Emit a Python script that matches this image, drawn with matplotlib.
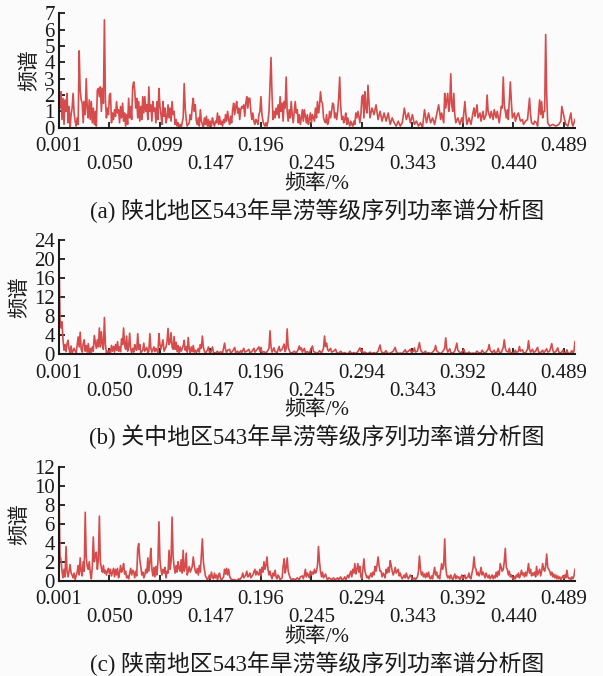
import numpy as np
import matplotlib.pyplot as plt

plt.rcParams['font.family'] = ['Liberation Serif', 'Noto Sans CJK SC']

# spectral bin k (frequency = k / 1024) and power
pts_a = [(1, 2.5), (2, 1.2), (3, 2.2), (4, 0.5), (5, 1.8), (6, 0.2), (7, 1.7), (8, 1.0), (9, 2.1), (10, 0.3),
         (11, 1.3), (12, 0.0), (13, 0.8), (14, 1.2), (15, 2.1), (16, 0.9), (17, 0.4), (18, 0.1), (19, 0.6), (20, 0.2),
         (21, 4.7), (22, 2.3), (23, 1.7), (24, 1.5), (25, 0.3), (26, 1.6), (27, 0.8), (28, 3.0), (29, 1.2), (30, 0.6),
         (31, 1.7), (32, 0.5), (33, 1.6), (34, 0.3), (35, 1.2), (36, 0.2), (37, 1.0), (38, 0.1), (39, 2.3), (40, 2.4),
         (41, 1.9), (42, 2.5), (43, 1.0), (44, 2.4), (45, 1.5), (46, 6.6), (47, 1.7), (48, 0.6), (49, 1.2), (50, 0.8),
         (51, 2.0), (52, 2.1), (53, 0.3), (54, 0.9), (55, 0.5), (56, 1.1), (57, 0.7), (58, 1.6), (59, 0.9), (60, 1.1),
         (61, 0.3), (62, 1.3), (63, 0.6), (64, 1.5), (65, 0.4), (66, 0.9), (67, 0.1), (68, 0.8), (69, 0.2), (70, 1.8),
         (71, 0.6), (72, 1.3), (73, 0.5), (74, 2.5), (75, 2.8), (76, 2.3), (77, 1.2), (78, 1.8), (79, 0.6), (80, 1.6),
         (81, 0.4), (82, 1.3), (83, 0.5), (84, 1.9), (85, 0.9), (86, 1.9), (87, 1.0), (88, 1.4), (89, 0.5), (90, 2.5),
         (91, 1.0), (92, 1.4), (93, 0.4), (94, 1.6), (95, 1.0), (96, 1.2), (97, 0.3), (98, 1.6), (99, 0.5), (100, 2.4),
         (101, 1.3), (102, 0.8), (103, 0.2), (104, 1.6), (105, 0.7), (106, 1.2), (107, 0.3), (108, 0.6), (109, 1.4),
         (110, 0.6), (111, 1.2), (112, 0.4), (113, 1.6), (114, 0.8), (115, 1.0), (116, 0.2), (117, 0.5), (118, 0.1),
         (119, 0.3), (120, 0.0), (121, 0.2), (122, 0.0), (123, 0.3), (124, 0.6), (125, 2.7), (126, 1.2), (127, 0.5),
         (128, 0.1), (129, 0.2), (130, 0.3), (131, 0.8), (132, 0.5), (133, 1.3), (134, 1.8), (135, 1.0), (136, 1.4),
         (137, 0.4), (138, 0.2), (139, 0.6), (140, 0.1), (141, 1.1), (142, 0.4), (143, 0.2), (144, 0.0), (145, 0.6),
         (146, 0.2), (147, 0.7), (148, 0.1), (149, 0.5), (150, 0.0), (151, 0.4), (152, 0.1), (153, 0.6), (154, 0.3),
         (155, 0.1), (156, 0.4), (157, 0.3), (158, 0.9), (159, 0.2), (160, 0.7), (161, 0.2), (162, 0.4), (163, 0.1),
         (164, 0.5), (165, 0.3), (166, 0.8), (167, 0.4), (168, 1.0), (169, 0.5), (170, 0.2), (171, 0.7), (172, 0.3),
         (173, 1.1), (174, 1.5), (175, 0.8), (176, 1.3), (177, 1.6), (178, 0.9), (179, 1.2), (180, 0.5), (181, 1.1),
         (182, 1.3), (183, 1.2), (184, 1.4), (185, 0.7), (186, 1.5), (187, 1.9), (188, 1.2), (189, 1.8), (190, 1.8),
         (191, 1.0), (192, 0.5), (193, 0.9), (194, 0.4), (195, 0.2), (196, 0.5), (197, 0.4), (198, 0.2), (199, 0.8),
         (200, 1.0), (201, 1.9), (202, 0.8), (203, 0.4), (204, 0.2), (205, 0.1), (206, 0.3), (207, 0.1), (208, 0.4),
         (209, 1.0), (210, 2.6), (211, 4.3), (212, 2.0), (213, 0.5), (214, 1.0), (215, 0.6), (216, 1.2), (217, 0.8),
         (218, 1.4), (219, 0.6), (220, 1.9), (221, 1.0), (222, 1.5), (223, 0.4), (224, 1.6), (225, 1.2), (226, 3.1),
         (227, 1.0), (228, 0.4), (229, 1.1), (230, 0.6), (231, 1.6), (232, 0.8), (233, 0.3), (234, 1.0), (235, 1.6),
         (236, 0.9), (237, 1.1), (238, 0.3), (239, 0.8), (240, 0.2), (241, 0.6), (242, 1.1), (243, 0.4), (244, 1.1),
         (245, 0.7), (246, 0.3), (247, 0.8), (248, 0.2), (249, 0.5), (250, 0.9), (251, 0.3), (252, 0.8), (253, 0.6),
         (254, 0.4), (255, 1.2), (256, 0.6), (257, 1.6), (258, 0.9), (259, 1.3), (260, 2.2), (261, 1.6), (262, 1.5),
         (263, 0.6), (264, 0.4), (265, 0.3), (266, 0.8), (267, 0.2), (268, 0.4), (269, 1.0), (270, 0.6), (271, 1.0),
         (272, 1.5), (273, 1.4), (274, 0.6), (275, 0.9), (276, 0.5), (277, 1.0), (278, 1.8), (279, 3.1), (280, 1.3),
         (281, 0.5), (282, 0.7), (283, 0.3), (284, 0.5), (285, 0.9), (286, 0.2), (287, 0.6), (288, 0.3), (289, 0.1),
         (290, 0.4), (291, 0.2), (292, 0.1), (293, 0.4), (294, 0.2), (295, 0.9), (296, 0.6), (297, 1.0), (298, 0.7),
         (299, 0.3), (300, 0.8), (301, 1.9), (302, 2.0), (303, 0.6), (304, 2.2), (305, 1.2), (306, 0.9), (307, 2.6),
         (309, 0.6), (311, 1.2), (313, 0.8), (315, 1.4), (317, 0.5), (319, 1.0), (321, 0.4), (323, 0.9), (325, 0.4),
         (327, 0.9), (329, 0.2), (331, 0.6), (333, 0.3), (335, 0.1), (337, 0.4), (339, 0.1), (341, 0.3), (343, 1.2),
         (345, 0.5), (347, 0.9), (349, 0.3), (351, 0.8), (353, 0.2), (355, 0.4), (357, 0.1), (359, 0.3), (361, 0.0),
         (363, 1.1), (365, 0.3), (367, 0.9), (369, 0.3), (371, 0.6), (373, 0.2), (375, 0.8), (377, 1.4), (379, 0.5),
         (380, 0.9), (382, 0.3), (383, 2.1), (384, 1.2), (386, 2.1), (387, 1.0), (388, 1.5), (389, 3.3), (390, 1.4),
         (391, 1.0), (392, 2.1), (393, 0.8), (394, 0.3), (396, 0.6), (398, 0.2), (400, 0.6), (401, 0.3), (403, 1.6),
         (404, 0.8), (405, 0.2), (407, 0.6), (409, 0.2), (411, 0.9), (412, 1.2), (413, 0.7), (415, 1.4), (416, 0.6),
         (418, 0.9), (419, 0.4), (421, 1.0), (422, 0.5), (424, 0.8), (425, 2.0), (426, 1.0), (428, 0.6), (429, 1.0),
         (431, 0.5), (432, 1.1), (434, 0.6), (435, 1.0), (437, 0.3), (439, 1.3), (440, 1.2), (441, 3.1), (442, 1.4),
         (443, 1.0), (444, 0.6), (445, 1.1), (446, 0.5), (448, 2.8), (449, 1.6), (450, 0.6), (452, 0.9), (453, 0.4),
         (455, 0.8), (456, 0.9), (458, 0.4), (460, 0.5), (461, 0.2), (463, 0.4), (465, 0.5), (467, 1.8), (468, 0.8),
         (469, 0.3), (471, 0.2), (472, 0.4), (474, 0.3), (475, 0.1), (477, 1.7), (478, 0.8), (479, 1.6), (480, 0.6),
         (481, 1.0), (482, 1.0), (483, 5.7), (484, 2.0), (485, 0.3), (487, 0.1), (490, 0.2), (493, 0.1), (496, 0.2),
         (498, 0.4), (499, 1.3), (501, 0.7), (503, 0.2), (505, 0.1), (508, 0.9), (509, 0.3), (510, 0.1), (512, 0.5)]

pts_b = [(1, 21.0), (2, 7.5), (3, 5.5), (4, 6.8), (5, 3.0), (6, 0.8), (7, 2.0), (8, 0.5), (9, 2.2), (10, 2.9),
         (11, 1.0), (12, 0.3), (13, 1.7), (14, 0.2), (16, 1.2), (18, 0.1), (20, 3.6), (21, 1.5), (22, 4.6), (23, 1.0),
         (24, 0.4), (25, 2.2), (26, 3.0), (27, 0.6), (28, 1.8), (29, 0.4), (30, 2.2), (31, 0.3), (32, 1.2), (33, 0.2),
         (34, 1.5), (35, 0.6), (36, 3.9), (37, 2.5), (38, 1.2), (39, 3.0), (40, 1.5), (41, 5.5), (42, 1.5), (43, 4.7),
         (44, 2.0), (45, 1.0), (46, 7.7), (47, 2.0), (48, 0.2), (49, 0.6), (50, 0.2), (51, 0.8), (52, 0.3), (53, 1.8),
         (54, 0.6), (55, 1.6), (56, 0.4), (57, 2.0), (58, 0.8), (59, 2.6), (60, 0.6), (61, 1.5), (62, 0.5), (63, 3.2),
         (64, 2.0), (65, 5.5), (66, 2.0), (67, 1.0), (68, 3.8), (69, 0.6), (70, 1.6), (71, 4.4), (72, 1.0), (73, 0.3),
         (74, 1.2), (75, 0.4), (76, 2.0), (77, 1.0), (78, 0.8), (79, 4.3), (80, 1.0), (81, 2.0), (82, 0.3), (84, 0.8),
         (85, 2.3), (86, 0.6), (88, 1.4), (89, 0.3), (90, 0.6), (91, 4.3), (92, 1.2), (93, 0.4), (95, 1.5), (96, 0.5),
         (97, 1.2), (99, 0.3), (100, 4.3), (101, 2.0), (102, 1.0), (104, 3.0), (105, 0.6), (107, 1.5), (108, 2.6),
         (109, 5.4), (110, 2.0), (111, 2.5), (112, 4.5), (113, 1.5), (114, 1.0), (115, 3.7), (116, 1.0), (117, 2.5),
         (118, 0.5), (119, 1.8), (120, 0.2), (121, 1.5), (122, 0.6), (124, 1.7), (125, 2.9), (126, 0.8), (127, 1.5),
         (128, 0.4), (129, 3.5), (130, 1.0), (131, 0.3), (132, 1.5), (133, 0.5), (134, 1.8), (135, 0.4), (136, 0.8),
         (137, 0.3), (139, 1.2), (140, 0.4), (141, 2.0), (142, 1.2), (143, 3.8), (144, 1.5), (145, 0.6), (146, 0.2),
         (148, 0.8), (149, 1.5), (150, 0.4), (151, 0.1), (152, 0.8), (153, 1.5), (154, 0.3), (156, 0.2), (158, 0.6),
         (159, 0.1), (161, 0.5), (163, 0.2), (165, 2.3), (166, 0.9), (167, 0.3), (168, 0.8), (170, 1.0), (171, 0.2),
         (173, 0.6), (175, 1.4), (176, 0.3), (178, 0.6), (179, 0.1), (181, 0.7), (182, 0.3), (184, 1.2), (185, 0.4),
         (187, 0.6), (189, 1.0), (190, 0.3), (192, 0.5), (194, 1.2), (195, 0.4), (197, 0.9), (199, 1.5), (200, 0.6),
         (201, 1.4), (202, 0.3), (204, 0.5), (206, 0.2), (208, 0.8), (209, 1.2), (210, 4.9), (211, 1.5), (212, 0.4),
         (214, 1.3), (215, 0.5), (217, 0.3), (219, 1.6), (220, 0.6), (222, 1.0), (224, 2.1), (225, 0.5), (226, 1.2),
         (227, 5.3), (228, 1.4), (229, 0.8), (230, 0.3), (232, 0.2), (234, 0.6), (236, 0.2), (238, 1.0), (239, 1.7),
         (240, 0.9), (241, 1.3), (242, 0.4), (244, 1.2), (245, 0.3), (247, 0.5), (249, 0.2), (250, 0.8), (252, 1.7),
         (253, 0.6), (255, 0.3), (257, 0.1), (259, 0.7), (261, 0.2), (263, 1.2), (264, 3.8), (265, 1.6), (266, 2.3),
         (267, 1.0), (268, 0.6), (270, 1.2), (271, 0.4), (273, 0.6), (275, 1.0), (276, 0.3), (278, 0.1), (280, 0.6),
         (282, 0.1), (284, 0.3), (286, 0.0), (288, 0.2), (289, 0.6), (291, 0.1), (293, 0.3), (295, 0.1), (297, 0.5),
         (299, 1.3), (300, 0.6), (301, 0.9), (302, 0.2), (304, 0.4), (306, 0.1), (308, 0.2), (309, 0.4), (311, 0.1),
         (313, 0.3), (315, 0.1), (317, 0.6), (319, 1.9), (320, 0.7), (321, 0.3), (323, 0.2), (325, 0.7), (326, 0.2),
         (328, 0.1), (330, 0.3), (332, 0.6), (334, 1.4), (335, 0.5), (337, 0.1), (339, 0.2), (341, 0.1), (342, 0.4),
         (344, 0.9), (345, 0.3), (347, 0.6), (349, 1.0), (350, 0.3), (352, 0.6), (353, 1.3), (354, 0.4), (356, 0.6),
         (358, 2.4), (359, 1.0), (360, 0.5), (362, 0.2), (364, 0.6), (365, 0.1), (367, 0.3), (369, 0.1), (371, 0.4),
         (373, 0.9), (374, 1.8), (375, 0.7), (377, 0.3), (379, 0.1), (381, 0.5), (383, 1.2), (384, 3.4), (385, 1.2),
         (386, 0.4), (388, 1.1), (389, 0.3), (391, 0.2), (393, 0.6), (395, 2.3), (396, 0.8), (398, 0.3), (400, 0.4),
         (402, 1.0), (403, 0.3), (405, 0.1), (407, 0.4), (409, 0.1), (411, 0.2), (413, 0.1), (415, 0.6), (417, 0.2),
         (419, 0.3), (420, 0.8), (422, 0.2), (424, 0.4), (426, 1.0), (427, 2.0), (428, 0.8), (430, 0.3), (432, 0.8),
         (433, 0.2), (435, 0.5), (436, 1.2), (437, 0.4), (439, 0.3), (441, 1.4), (442, 3.0), (443, 1.2), (444, 0.6),
         (446, 0.4), (447, 1.2), (448, 0.3), (450, 0.2), (452, 0.4), (453, 0.8), (454, 0.2), (456, 0.6), (457, 1.6),
         (458, 0.6), (460, 0.9), (461, 0.3), (463, 0.2), (465, 1.0), (466, 2.8), (467, 1.0), (468, 0.4), (470, 1.0),
         (471, 0.3), (473, 0.6), (475, 1.4), (476, 0.4), (478, 0.3), (480, 0.8), (481, 0.2), (482, 0.5), (484, 1.1),
         (485, 0.4), (487, 0.6), (489, 2.2), (490, 0.9), (491, 0.3), (493, 0.5), (495, 1.3), (496, 0.4), (498, 0.2),
         (500, 0.8), (501, 0.2), (503, 0.3), (504, 0.9), (505, 0.2), (507, 0.1), (509, 0.7), (510, 0.2), (511, 0.6),
         (512, 2.6)]

pts_c = [(1, 9.5), (2, 2.6), (3, 2.2), (4, 1.0), (5, 0.3), (6, 1.2), (7, 0.4), (8, 3.6), (9, 1.0), (10, 0.4),
         (11, 1.0), (12, 1.7), (13, 0.8), (14, 0.6), (15, 0.3), (16, 0.8), (17, 0.1), (18, 0.5), (19, 0.9), (20, 1.6),
         (21, 0.6), (22, 2.4), (23, 1.0), (24, 0.5), (25, 2.0), (26, 1.0), (27, 7.2), (28, 2.5), (29, 1.5), (30, 1.2),
         (31, 2.0), (32, 0.8), (33, 0.2), (34, 1.5), (35, 4.6), (36, 2.0), (37, 2.6), (38, 3.0), (39, 1.2), (40, 2.2),
         (41, 6.8), (42, 2.0), (43, 1.3), (44, 0.9), (45, 1.6), (46, 0.8), (47, 1.1), (48, 0.6), (49, 1.0), (50, 1.3),
         (51, 0.7), (52, 1.2), (53, 0.5), (54, 0.9), (55, 1.3), (56, 0.4), (57, 1.2), (58, 0.6), (59, 1.3), (60, 0.3),
         (61, 0.8), (62, 1.6), (63, 0.9), (64, 1.2), (65, 1.8), (66, 0.7), (67, 1.0), (68, 0.3), (69, 0.5), (70, 0.2),
         (71, 0.8), (72, 1.3), (73, 0.6), (74, 1.1), (75, 0.9), (76, 0.3), (77, 1.0), (78, 0.5), (79, 3.4), (80, 3.9),
         (81, 2.2), (82, 1.5), (83, 0.6), (84, 0.9), (85, 0.3), (86, 0.6), (87, 1.2), (88, 0.8), (89, 2.4), (90, 1.0),
         (91, 2.0), (92, 3.4), (93, 1.2), (94, 0.5), (95, 1.4), (96, 0.4), (97, 1.5), (98, 0.6), (99, 2.0), (100, 6.2),
         (101, 2.2), (102, 1.2), (103, 0.6), (104, 1.2), (105, 0.8), (106, 1.4), (107, 0.3), (108, 1.0), (109, 0.8),
         (110, 3.2), (111, 1.2), (112, 2.0), (113, 6.7), (114, 2.6), (115, 1.5), (116, 0.8), (117, 1.6), (118, 0.9),
         (119, 2.0), (120, 1.3), (121, 1.0), (122, 2.2), (123, 0.8), (124, 3.2), (125, 1.0), (126, 1.4), (127, 2.9),
         (128, 0.6), (129, 1.0), (130, 1.5), (131, 0.9), (132, 1.2), (133, 1.5), (134, 2.5), (135, 1.6), (136, 1.0),
         (137, 0.8), (138, 1.3), (139, 0.6), (140, 1.6), (141, 0.9), (142, 2.6), (143, 4.4), (144, 2.0), (145, 1.2),
         (146, 0.5), (147, 0.3), (148, 0.1), (149, 0.3), (150, 0.6), (151, 0.2), (152, 0.9), (153, 0.4), (154, 0.2),
         (155, 0.8), (156, 0.3), (157, 0.6), (158, 0.1), (159, 0.5), (160, 0.8), (161, 0.2), (162, 0.1), (164, 0.4),
         (165, 1.2), (166, 0.7), (167, 1.3), (168, 0.6), (169, 1.2), (170, 0.5), (171, 0.2), (173, 0.1), (175, 0.1),
         (177, 0.0), (179, 0.2), (180, 0.1), (182, 0.4), (183, 0.8), (184, 0.3), (186, 0.6), (187, 1.0), (188, 0.4),
         (189, 0.5), (190, 0.8), (191, 0.3), (193, 0.6), (195, 1.2), (196, 0.6), (197, 1.0), (198, 0.7), (199, 0.6),
         (200, 1.2), (201, 0.5), (202, 1.4), (203, 0.9), (204, 2.0), (205, 1.2), (206, 1.6), (207, 2.5), (208, 1.2),
         (209, 0.6), (210, 1.0), (211, 0.5), (212, 0.2), (213, 0.8), (214, 0.5), (215, 1.1), (216, 0.4), (217, 0.2),
         (218, 0.6), (219, 0.4), (220, 0.1), (222, 0.3), (223, 1.5), (224, 2.3), (225, 0.8), (226, 1.4), (227, 2.4),
         (228, 1.0), (229, 0.6), (230, 0.3), (231, 0.1), (233, 0.2), (235, 0.1), (237, 0.3), (239, 0.1), (240, 0.4),
         (242, 0.5), (243, 0.2), (244, 0.6), (245, 1.2), (246, 0.4), (247, 0.8), (248, 0.6), (249, 0.3), (250, 1.0),
         (251, 0.6), (252, 0.9), (253, 0.7), (254, 1.2), (255, 0.8), (256, 1.0), (257, 1.6), (258, 3.6), (259, 2.0),
         (260, 1.0), (261, 0.4), (262, 0.9), (263, 0.3), (264, 0.5), (265, 0.7), (266, 0.3), (267, 0.1), (268, 0.3),
         (270, 0.2), (271, 0.1), (273, 0.3), (274, 0.1), (276, 0.2), (277, 0.3), (278, 0.1), (280, 0.4), (281, 0.1),
         (283, 0.2), (284, 0.4), (285, 0.1), (287, 0.6), (288, 0.3), (290, 1.0), (291, 0.4), (292, 1.2), (293, 0.8),
         (294, 1.8), (295, 0.7), (296, 1.2), (297, 1.8), (298, 0.9), (299, 1.5), (300, 0.4), (301, 0.2), (302, 1.2),
         (303, 2.3), (304, 1.0), (305, 0.6), (306, 0.3), (307, 0.5), (308, 0.2), (310, 0.8), (311, 0.4), (312, 0.9),
         (313, 0.6), (314, 1.5), (315, 1.0), (316, 1.6), (317, 2.5), (318, 1.6), (319, 1.0), (320, 1.0), (321, 0.4),
         (322, 0.8), (323, 0.6), (324, 0.3), (325, 1.2), (326, 0.8), (327, 1.4), (328, 0.9), (329, 2.1), (330, 1.6),
         (331, 1.0), (332, 0.6), (333, 0.9), (334, 1.4), (335, 0.8), (336, 1.0), (337, 1.2), (338, 0.5), (339, 0.8),
         (340, 0.4), (341, 0.2), (343, 0.6), (344, 0.3), (345, 0.8), (346, 0.4), (347, 0.2), (349, 0.6), (350, 0.4),
         (351, 0.1), (353, 0.3), (354, 0.1), (356, 0.4), (357, 1.0), (358, 2.6), (359, 1.2), (360, 0.6), (361, 0.9),
         (362, 0.4), (363, 0.7), (364, 0.3), (365, 0.8), (366, 0.4), (367, 0.9), (368, 0.3), (369, 0.2), (370, 0.5),
         (371, 0.2), (372, 0.8), (373, 1.4), (374, 0.6), (375, 0.9), (376, 0.3), (377, 0.5), (378, 0.2), (379, 1.0),
         (380, 1.8), (381, 1.2), (382, 1.6), (383, 4.4), (384, 1.5), (385, 0.6), (386, 0.3), (387, 0.5), (388, 0.2),
         (389, 0.6), (390, 0.3), (391, 0.1), (392, 0.4), (393, 0.7), (394, 0.2), (395, 0.5), (396, 0.3), (397, 0.4),
         (398, 0.1), (400, 0.6), (401, 0.2), (402, 0.3), (403, 0.6), (404, 0.2), (406, 0.4), (407, 0.8), (408, 0.3),
         (409, 0.2), (410, 0.8), (411, 1.3), (412, 2.5), (413, 1.4), (414, 1.2), (415, 0.6), (416, 0.9), (417, 0.5),
         (418, 0.8), (419, 1.4), (420, 0.6), (421, 0.9), (422, 0.6), (423, 0.3), (424, 0.8), (425, 0.5), (426, 0.3),
         (427, 0.6), (428, 0.2), (429, 0.4), (430, 0.6), (431, 0.2), (432, 0.5), (433, 0.3), (434, 0.9), (435, 0.4),
         (436, 1.0), (437, 0.6), (438, 1.8), (439, 1.4), (440, 1.0), (441, 1.2), (442, 2.0), (443, 3.4), (444, 1.4),
         (445, 1.2), (446, 0.6), (447, 1.0), (448, 0.4), (449, 0.6), (450, 0.3), (451, 0.1), (452, 0.4), (453, 0.2),
         (454, 0.6), (455, 0.4), (456, 0.8), (457, 0.3), (458, 0.6), (459, 1.1), (460, 0.6), (461, 0.8), (462, 0.4),
         (463, 0.9), (464, 0.5), (465, 1.0), (466, 1.8), (467, 0.8), (468, 1.2), (469, 0.5), (470, 0.8), (471, 0.6),
         (472, 0.9), (473, 0.4), (474, 1.5), (475, 0.6), (476, 0.9), (477, 1.2), (478, 0.5), (479, 1.0), (480, 1.8),
         (481, 1.2), (482, 1.0), (483, 1.6), (484, 2.8), (485, 1.4), (486, 1.2), (487, 1.0), (488, 0.6), (489, 0.9),
         (490, 0.4), (491, 0.7), (492, 0.3), (493, 0.6), (494, 0.2), (495, 0.5), (496, 0.2), (497, 0.4), (498, 0.1),
         (499, 0.3), (500, 0.5), (501, 0.2), (502, 0.6), (503, 0.3), (504, 1.1), (505, 0.4), (506, 0.2), (507, 0.3),
         (508, 0.1), (509, 0.4), (510, 0.2), (511, 0.5), (512, 1.2)]

n_fft = 1024
tick_bins = [1, 51, 101, 151, 201, 251, 301, 351, 401, 451, 501]
tick_labels = ['0.001', '0.050', '0.099', '0.147', '0.196', '0.245',
               '0.294', '0.343', '0.392', '0.440', '0.489']

captions = ['(a) 陕北地区543年旱涝等级序列功率谱分析图',
            '(b) 关中地区543年旱涝等级序列功率谱分析图',
            '(c) 陕南地区543年旱涝等级序列功率谱分析图']
ymax = [7, 24, 12]
ystep = [1, 4, 2]

line_c = '#d64b4b'
ink = '#1a1a1a'
fs = 15

fig = plt.figure(figsize=(6.03, 6.76), dpi=100, facecolor='#fbfbfb')
boxes = [[0.0978, 0.8111, 0.8557, 0.1692],
         [0.0978, 0.4763, 0.8557, 0.1682],
         [0.0978, 0.1410, 0.8557, 0.1686]]

tick_f = np.array(tick_bins) / n_fft

for i, pts in enumerate([pts_a, pts_b, pts_c]):
    ax = fig.add_axes(boxes[i])
    ax.set_facecolor('#fbfbfb')
    k, p = zip(*pts)
    ax.plot(np.array(k) / n_fft, p, color=line_c, lw=1.2)

    ax.set_xlim(1 / n_fft, 512 / n_fft)
    ax.set_ylim(0, ymax[i])
    ax.set_yticks(np.arange(0, ymax[i] + 1, ystep[i]))

    # staggered tick labels: even ones on the first row, odd ones below
    ax.set_xticks(tick_f[::2], tick_labels[::2])
    ax.set_xticks(tick_f[1::2], tick_labels[1::2], minor=True)

    for s in ['top', 'right']:
        ax.spines[s].set_visible(False)
    for s in ['left', 'bottom']:
        ax.spines[s].set_linewidth(1.5)
        ax.spines[s].set_color(ink)

    ax.tick_params(which='both', direction='in', length=4, width=1.3,
                   color=ink, labelsize=fs, labelcolor=ink)
    ax.tick_params(axis='x', which='major', pad=7)
    ax.tick_params(axis='x', which='minor', pad=20)
    ax.tick_params(axis='y', pad=3)

    ax.set_ylabel('频谱', fontsize=15, color=ink, labelpad=3)
    ax.set_xlabel('频率/%', fontsize=15, color=ink, labelpad=0)
    ax.annotate(captions[i], xy=(0.5, 0), xycoords='axes fraction',
                xytext=(0, -59.5), textcoords='offset points',
                ha='center', va='center', fontsize=16.5, color=ink)

fig.savefig('out.png', dpi=100, facecolor=fig.get_facecolor())
